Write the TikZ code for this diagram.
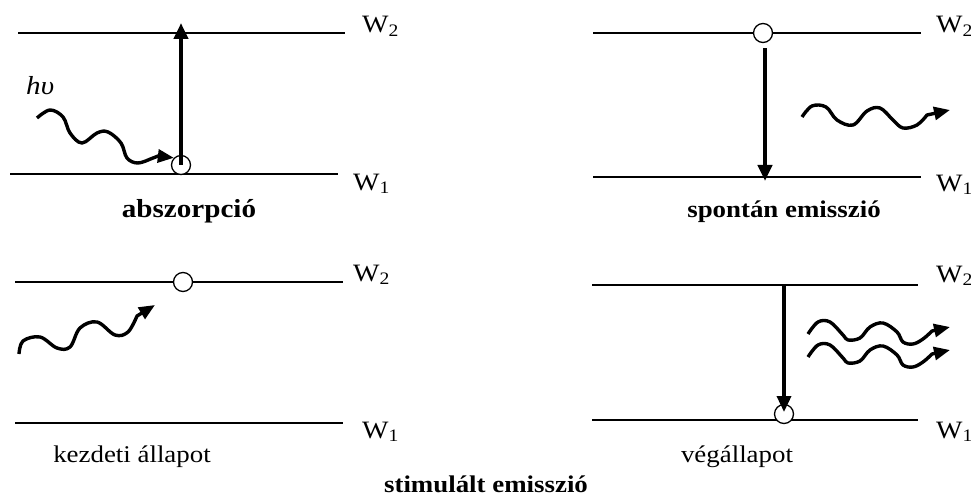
\documentclass[tikz,border=0pt]{standalone}
\usepackage{fontspec}
\setmainfont{Liberation Serif}[FakeStretch=1.12]
\usetikzlibrary{arrows.meta}
\begin{document}
\begin{tikzpicture}[x=1pt,y=-1pt,
  level/.style={line width=1.6pt},
  atom/.style={circle,draw,line width=1.3pt,fill=white,minimum size=19pt,inner sep=0pt},
  trans/.style={line width=4pt,-{Triangle[length=16pt,width=14pt]}},
  photon/.style={line width=3.4pt,line join=round,-{Triangle[length=16pt,width=13pt]}},
  lab/.style={anchor=base west,inner sep=0pt,font=\fontsize{25}{29}\selectfont},
  caption/.style={anchor=base,inner sep=0pt,font=\fontsize{24}{28}\selectfont\bfseries},
  subcap/.style={anchor=base,inner sep=0pt,font=\fontsize{24}{28}\selectfont}]
\useasboundingbox (0,0) rectangle (971,497);
% ---- panel 1: abszorpcio
\coordinate (a2l) at (18,33); \coordinate (a2r) at (345,33);
\coordinate (a1l) at (10,174); \coordinate (a1r) at (338,174);
\draw[level] (a2l) -- (a2r);
\draw[level] (a1l) -- (a1r);
\node[lab] (aw2) at (362,33) {W\textsubscript{2}};
\node[lab] (aw1) at (353,190) {W\textsubscript{1}};
\node[atom] (ac) at (181,165) {};
\coordinate (atop) at (181,23);
\draw[trans] (ac.center) -- (atop);
\node[anchor=base west,inner sep=0pt,font=\fontsize{26}{30}\selectfont\itshape] (hv) at (26,95) {hυ};
\draw[photon] plot[smooth,tension=0.6] coordinates {(37,118) (50,110) (63,117) (70,133) (82,143) (97,133) (108,132) (121,143) (127,158) (138,163) (153,158) (158,156)} -- (ac.north west);
\node[caption,font=\fontsize{26}{30}\selectfont\bfseries] (acap) at (189,218) {abszorpció};
% ---- panel 2: spontan emisszio
\coordinate (b2l) at (593,33); \coordinate (b2r) at (921,33);
\coordinate (b1l) at (593,177); \coordinate (b1r) at (921,177);
\draw[level] (b2l) -- (b2r);
\draw[level] (b1l) -- (b1r);
\node[lab] (bw2) at (936,33) {W\textsubscript{2}};
\node[lab] (bw1) at (936,191) {W\textsubscript{1}};
\node[atom] (bc) at (763,33) {};
\coordinate (bbot) at (765,181);
\draw[trans] ([xshift=2pt,yshift=-5pt]bc.south) -- (bbot);
\coordinate (bph) at (950,110);
\draw[photon] plot[smooth,tension=0.6] coordinates {(802,117) (812,106) (826,107) (837,120) (853,125) (867,111) (880,108) (893,120) (903,128) (917,125) (927,115)} -- (bph);
\node[caption] (bcap) at (784,218) {spontán emisszió};
% ---- panel 3: kezdeti allapot
\coordinate (c2l) at (15,282); \coordinate (c2r) at (343,282);
\coordinate (c1l) at (15,423); \coordinate (c1r) at (343,423);
\draw[level] (c2l) -- (c2r);
\draw[level] (c1l) -- (c1r);
\node[lab] (cw2) at (353,281) {W\textsubscript{2}};
\node[lab] (cw1) at (362,438) {W\textsubscript{1}};
\node[atom] (cc) at (183,282) {};
\coordinate (cph) at (155,305);
\draw[photon] plot[smooth,tension=0.6] coordinates {(19,354) (23,341) (40,337) (57,348) (70,347) (80,328) (97,322) (115,335) (128,332) (137,316)} -- (cph);
\node[subcap] (ccap) at (132,462) {kezdeti állapot};
% ---- panel 4: vegallapot
\coordinate (d2l) at (592,285); \coordinate (d2r) at (918,285);
\coordinate (d1l) at (592,420); \coordinate (d1r) at (918,420);
\draw[level] (d2l) -- (d2r);
\draw[level] (d1l) -- (d1r);
\node[lab] (dw2) at (936,282) {W\textsubscript{2}};
\node[lab] (dw1) at (936,438) {W\textsubscript{1}};
\node[atom] (dc) at (784,414) {};
\coordinate (dtop) at (784,285);
\draw[trans,line width=3.5pt] (dtop) -- ([yshift=2pt]dc.center);
\coordinate (dph1) at (950,327);
\coordinate (dph2) at (950,350);
\draw[photon] plot[smooth,tension=0.6] coordinates {(808,334) (818,322) (830,322) (843,335) (848,340) (860,338) (870,327) (883,323) (897,332) (903,342) (913,344) (923,339) (932,331)} -- (dph1);
\draw[photon] plot[smooth,tension=0.6] coordinates {(808,357) (818,345) (830,345) (843,358) (848,363) (860,361) (870,350) (883,346) (897,355) (903,365) (913,367) (923,362) (932,354)} -- (dph2);
\node[subcap] (dcap) at (737,462) {végállapot};
\node[caption] (scap) at (486,492) {stimulált emisszió};
\end{tikzpicture}
\end{document}
